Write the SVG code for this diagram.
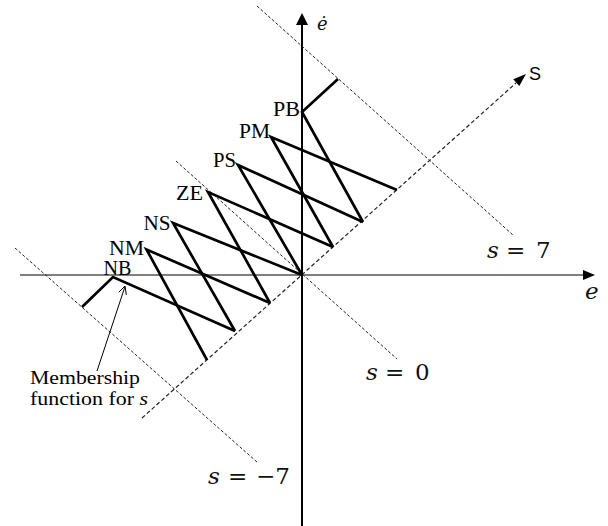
<svg xmlns="http://www.w3.org/2000/svg" width="608" height="526" viewBox="0 0 608 526">
<style>
.mf{fill:none;stroke:#000;stroke-width:2.7;stroke-linejoin:miter}
.dash{fill:none;stroke:#222;stroke-width:1;stroke-dasharray:3 2}
.lbl{font-family:"Liberation Serif","Times New Roman",serif;font-size:20px;fill:#000}
.math{font-family:"DejaVu Serif",serif;font-size:23px;fill:#111}
.it{font-style:italic}
</style>
<rect width="608" height="526" fill="#fff"/>
<g id="axes">
  <line x1="20" y1="275" x2="585" y2="275" stroke="#555" stroke-width="1.6"/>
  <polygon points="595,275 583,270 583,280" fill="#000"/>
  <line x1="302" y1="24" x2="302" y2="526" stroke="#000" stroke-width="2"/>
  <polygon points="302,13 296,25 308,25" fill="#000"/>
  <text class="math it" x="585" y="299">e</text>
  <text class="math it" x="317" y="30" style="font-size:18px">ė</text>
</g>
<g id="s-lines">
  <line class="dash" x1="257" y1="6" x2="513" y2="235"/>
  <line class="dash" x1="176" y1="161" x2="397" y2="359"/>
  <line class="dash" x1="15" y1="248" x2="257" y2="462"/>
  <line x1="142" y1="418" x2="516" y2="83" stroke="#222" stroke-width="1.2" stroke-dasharray="4 2.5" fill="none"/>
  <polygon points="526,74 519.3,86.1 513.3,79.3" fill="#000"/>
  <text x="529" y="80" style="font-family:'Liberation Sans',Arial,sans-serif;font-size:18px">S</text>
</g>
<g id="NB"><polyline class="mf" points="82,307 113,277 235,331"/><text class="lbl" x="103.5" y="275" textLength="28" lengthAdjust="spacingAndGlyphs">NB</text></g>
<g id="NM"><polyline class="mf" points="207,360 146.5,249.5 270,303"/><text class="lbl" x="109" y="255" textLength="35" lengthAdjust="spacingAndGlyphs">NM</text></g>
<g id="NS"><polyline class="mf" points="235,331 173,223 302,275"/><text class="lbl" x="143.5" y="230" textLength="27" lengthAdjust="spacingAndGlyphs">NS</text></g>
<g id="ZE"><polyline class="mf" points="270,303 208,192 333,247"/><text class="lbl" x="176" y="200" textLength="27" lengthAdjust="spacingAndGlyphs">ZE</text></g>
<g id="PS"><polyline class="mf" points="302,275 238,165 363,222"/><text class="lbl" x="213" y="167" textLength="23" lengthAdjust="spacingAndGlyphs">PS</text></g>
<g id="PM"><polyline class="mf" points="333,247 271,137 397,190"/><text class="lbl" x="239" y="138" textLength="31" lengthAdjust="spacingAndGlyphs">PM</text></g>
<g id="PB"><polyline class="mf" points="363,222 302,112 338,79"/><text class="lbl" x="273" y="116" textLength="27" lengthAdjust="spacingAndGlyphs">PB</text></g>
<g id="labels">
  <text class="math"><tspan class="it" x="487" y="258">s</tspan><tspan x="506" y="258">=</tspan><tspan x="536" y="258">7</tspan></text>
  <text class="math"><tspan class="it" x="366" y="380">s</tspan><tspan x="385" y="380">=</tspan><tspan x="415" y="380">0</tspan></text>
  <text class="math"><tspan class="it" x="208" y="484">s</tspan><tspan x="228" y="484">=</tspan><tspan x="256" y="484">−7</tspan></text>
  <text class="lbl" x="30" y="384" style="font-size:19px" textLength="110" lengthAdjust="spacingAndGlyphs">Membership</text>
  <text class="lbl" x="30" y="405" style="font-size:19px" textLength="118" lengthAdjust="spacingAndGlyphs">function for <tspan class="it">s</tspan></text>
</g>
<g id="connectors">
  <line x1="97" y1="371" x2="125" y2="286.5" stroke="#000" stroke-width="1"/>
  <polyline points="118.7,292.3 125,286 126.3,294.9" fill="none" stroke="#000" stroke-width="1"/>
</g>
</svg>
